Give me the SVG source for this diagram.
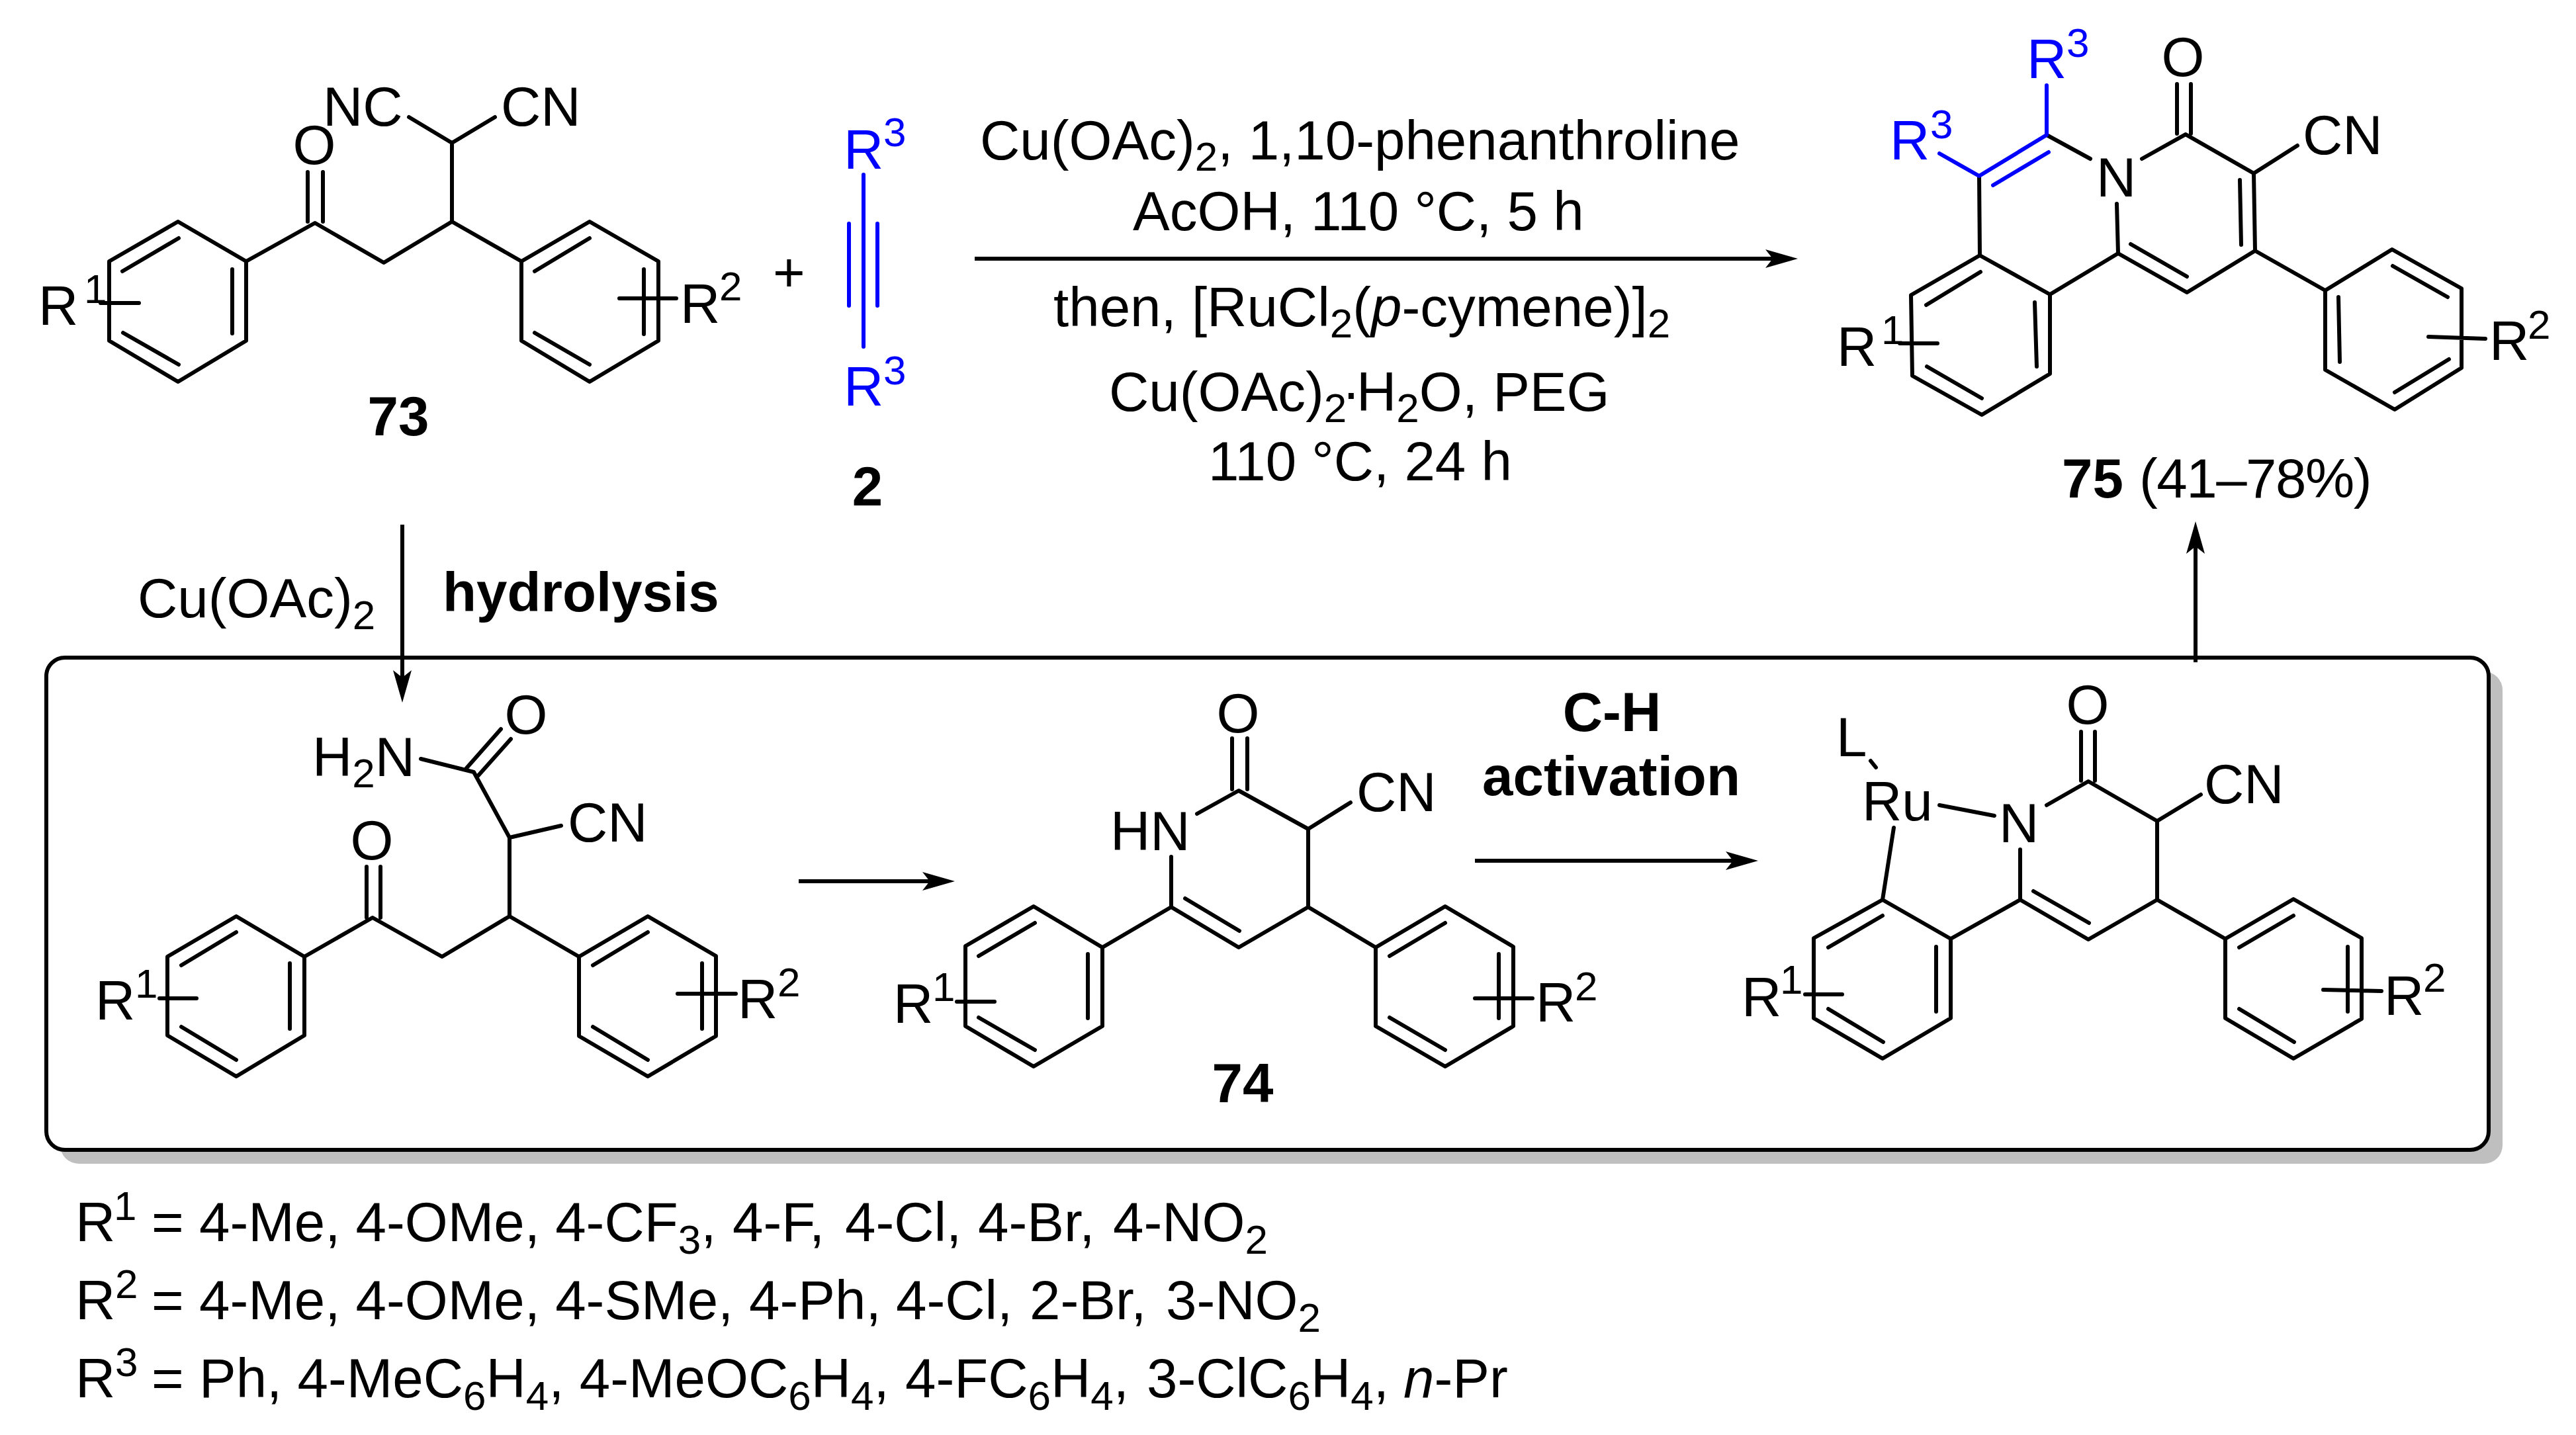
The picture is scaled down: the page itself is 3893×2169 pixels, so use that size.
<svg xmlns="http://www.w3.org/2000/svg" width="3893" height="2169" viewBox="0 0 3893 2169">
<style>
text{font-family:"Liberation Sans",Arial,sans-serif;font-size:83.5px;fill:#000;transform:translate(0,4px)}
.s{font-size:62px}
.b{font-weight:700}
.m{text-anchor:middle}
.blue{fill:#0000ff}
.bond{fill:none;stroke:#000;stroke-width:6;stroke-linecap:round;stroke-linejoin:round}
.blueb{fill:none;stroke:#0000ff;stroke-width:6;stroke-linecap:round;stroke-linejoin:round}
.arrow{fill:none;stroke:#000;stroke-width:6;marker-end:url(#head)}
</style>
<defs>
<marker id="head" markerUnits="userSpaceOnUse" viewBox="0 0 49 28" markerWidth="49" markerHeight="28" refX="15" refY="14" orient="auto"><path d="M0,0L49,14L0,28L11,14Z" fill="#000"/></marker>
</defs>
<rect width="3893" height="2169" fill="#fff"/>
<g id="box">
<rect x="91" y="1015" width="3691" height="744" rx="28" ry="28" fill="#bfbfbf"/>
<rect x="70" y="994" width="3691" height="744" rx="28" ry="28" fill="#fff" stroke="#000" stroke-width="6"/>
</g>
<g id="connectors">
<line class="arrow" x1="1473" y1="391" x2="2683" y2="391"/>
<line class="arrow" x1="608" y1="793" x2="608" y2="1028"/>
<line class="arrow" x1="1207" y1="1332" x2="1409" y2="1332"/>
<line class="arrow" x1="2229" y1="1301" x2="2623" y2="1301"/>
<line class="arrow" x1="3318" y1="1001" x2="3318" y2="822"/>
</g>
<g id="compound-73">
<path class="bond" d="M269,335L372,395V515L269,577L165,515V395ZM185,410L270,360M351,407V504M186,503L270,551M372,395L476,337L580,397L683,335L788,395M465,260V335M488,260V335M683,335V216L618,177M683,216L748,177M788,395L891,335L995,395V515L891,577L788,515ZM808,410L891,360M973,407V505M808,503L891,551M152,458H210M936,451H1022"/>
<text class="m" x="475" y="244">O</text>
<text x="488" y="186">NC</text>
<text x="757" y="186">CN</text>
<text x="58" y="487">R<tspan class="s" x="127" y="454">1</tspan></text>
<text x="1028" y="484">R<tspan class="s" x="1087" y="450">2</tspan></text>
<text class="b m" x="602" y="654">73</text>
</g>
<text id="plus" x="1168" y="436">+</text>
<g id="alkyne-2">
<path class="blueb" d="M1305,264V524M1283,338V462M1326,338V462"/>
<text class="blue" x="1275" y="251">R<tspan class="s" x="1335" y="217">3</tspan></text>
<text class="blue" x="1275" y="609">R<tspan class="s" x="1335" y="577">3</tspan></text>
<text class="b m" x="1311" y="760">2</text>
</g>
<g id="conditions">
<text x="1481" y="237">Cu(OAc)<tspan class="s" dy="17">2</tspan><tspan dy="-17">, 1,10-phenanthroline</tspan></text>
<text x="1712" y="344">AcOH, 110 °C, 5 h</text>
<text x="1592" y="489">then, [RuCl<tspan class="s" dy="17">2</tspan><tspan dy="-17">(</tspan><tspan font-style="italic">p</tspan>-cymene)]<tspan class="s" dy="17">2</tspan></text>
<text x="1676" y="617">Cu(OAc)<tspan class="s" dy="17">2</tspan><tspan x="2028" dy="-17">·</tspan><tspan x="2050">H</tspan><tspan class="s" dy="17">2</tspan><tspan dy="-17">O, PEG</tspan></text>
<text x="1826" y="722">110 °C, 24 h</text>
</g>
<g id="product-75">
<path class="bond" d="M2991,266L2992,386L3098,445V565L2995,627L2890,568L2888,446L2992,386M2911,461L2993,411M3075,457L3078,554M2912,554L2995,602M3098,445L3201,383L3305,442L3408,379L3406,262L3303,203L3237,240M3199,308L3201,383M3220,369L3305,418M3385,272L3387,370M3406,262L3472,220M3290,127V202M3311,127V202M3093,204L3159,240M3408,379L3514,439L3615,377L3720,436V556L3619,619L3514,559L3514,439M3616,402L3699,449M3534,449L3536,547M3619,593L3701,543M2871,519H2928M3670,509L3756,512"/>
<path class="blueb" d="M2931,232L2991,266L3093,204V129M3012,280L3096,230"/>
<text class="blue" x="2856" y="237">R<tspan class="s" x="2917" y="205">3</tspan></text>
<text class="blue" x="3063" y="114">R<tspan class="s" x="3123" y="82">3</tspan></text>
<text x="3168" y="293">N</text>
<text class="m" x="3299" y="111">O</text>
<text x="3480" y="229">CN</text>
<text x="2776" y="549">R<tspan class="s" x="2843" y="516">1</tspan></text>
<text x="3762" y="540">R<tspan class="s" x="3820" y="508">2</tspan></text>
<text x="3116" y="748"><tspan class="b">75</tspan> <tspan x="3233" letter-spacing="-1.5">(41–78%)</tspan></text>
</g>
<g id="reagent-cu">
<text x="208" y="929">Cu(OAc)<tspan class="s" dy="18">2</tspan></text>
<text class="b" x="669" y="920">hydrolysis</text>
</g>
<g id="amide-intermediate">
<path class="bond" d="M357,1385L460,1446V1565L357,1627L253,1565V1446ZM274,1459L357,1409M438,1456V1555M274,1552L357,1602M460,1446L563,1387L668,1446L770,1385L875,1446M554,1310V1387M575,1310V1387M770,1385V1266L716,1167L636,1147M705,1161L757,1102M723,1172L772,1117M770,1266L848,1248M875,1446L979,1385L1082,1445V1566L979,1627L875,1566ZM896,1459L979,1409M1061,1456V1555M896,1552L979,1602M241,1509H297M1024,1502H1112"/>
<text class="m" x="562" y="1295">O</text>
<text class="m" x="795" y="1105">O</text>
<text x="472" y="1169">H<tspan class="s" dy="17">2</tspan><tspan dy="-17">N</tspan></text>
<text x="858" y="1268">CN</text>
<text x="144" y="1537">R<tspan class="s" x="204" y="1504">1</tspan></text>
<text x="1115" y="1535">R<tspan class="s" x="1175" y="1502">2</tspan></text>
</g>
<g id="compound-74">
<path class="bond" d="M1562,1370L1666,1432V1551L1562,1612L1459,1551V1430ZM1479,1445L1564,1395M1644,1442V1539M1479,1538L1564,1587M1666,1432L1770,1371L1872,1432L1977,1371L2079,1432M1770,1295V1371M1791,1358L1873,1407M1977,1371V1253L1872,1195L1809,1230M1977,1253L2041,1213M1862,1116V1193M1885,1116V1193M2079,1432L2184,1370L2287,1431V1551L2184,1612L2079,1551ZM2100,1445L2184,1395M2265,1442V1539M2100,1538L2184,1587M1446,1514H1503M2229,1509H2316"/>
<text class="m" x="1871" y="1103">O</text>
<text x="1678" y="1281">HN</text>
<text x="2050" y="1222">CN</text>
<text x="1350" y="1542">R<tspan class="s" x="1409" y="1509">1</tspan></text>
<text x="2321" y="1540">R<tspan class="s" x="2380" y="1508">2</tspan></text>
<text class="b m" x="1878" y="1662">74</text>
<text class="b m" x="2436" y="1101">C-H</text>
<text class="b m" x="2435" y="1198">activation</text>
</g>
<g id="ru-complex">
<path class="bond" d="M2845,1360L2948,1419V1539L2845,1600L2741,1539V1418ZM2763,1432L2845,1384M2926,1431V1529M2763,1525L2846,1575M2948,1419L3053,1360L3156,1420L3260,1360L3363,1419M3053,1284V1360M3073,1347L3157,1395M3260,1360V1241L3156,1181L3093,1217M3260,1241L3326,1201M3145,1106V1180M3166,1106V1180M3363,1419L3466,1359L3569,1418V1540L3466,1600L3363,1539ZM3384,1432L3466,1384M3548,1431V1529M3384,1525L3467,1575M2827,1150L2835,1160M2931,1217L3014,1233M2862,1251L2845,1360M2728,1503H2784M3511,1496L3599,1498"/>
<text class="m" x="3155" y="1090">O</text>
<text x="3331" y="1210">CN</text>
<text x="3021" y="1269">N</text>
<text x="2814" y="1236">Ru</text>
<text x="2775" y="1139">L</text>
<text x="2632" y="1532">R<tspan class="s" x="2690" y="1498">1</tspan></text>
<text x="3603" y="1530">R<tspan class="s" x="3662" y="1495">2</tspan></text>
</g>
<g id="legend">
<text x="114" y="1872">R<tspan class="s" x="172" y="1840">1</tspan><tspan x="229" y="1872">= 4-Me, 4-OMe, 4-CF</tspan><tspan class="s" dy="19">3</tspan><tspan dy="-19">, </tspan><tspan x="1107">4-F, </tspan><tspan x="1277">4-Cl, </tspan><tspan x="1478">4-Br, </tspan><tspan x="1682">4-NO</tspan><tspan class="s" dy="19">2</tspan></text>
<text x="114" y="1990">R<tspan class="s" x="174" y="1958">2</tspan><tspan x="229" y="1990">= 4-Me, 4-OMe, 4-SMe, </tspan><tspan x="1132">4-Ph, </tspan><tspan x="1354">4-Cl, </tspan><tspan x="1556">2-Br, </tspan><tspan x="1762">3-NO</tspan><tspan class="s" dy="19">2</tspan></text>
<text x="114" y="2108">R<tspan class="s" x="174" y="2076">3</tspan><tspan x="229" y="2108">= Ph, 4-MeC</tspan><tspan class="s" dy="19">6</tspan><tspan dy="-19">H</tspan><tspan class="s" dy="19">4</tspan><tspan dy="-19">, 4-MeOC</tspan><tspan class="s" dy="19">6</tspan><tspan dy="-19">H</tspan><tspan class="s" dy="19">4</tspan><tspan dy="-19">, </tspan><tspan x="1368">4-FC</tspan><tspan class="s" dy="19">6</tspan><tspan dy="-19">H</tspan><tspan class="s" dy="19">4</tspan><tspan dy="-19">, </tspan><tspan x="1733">3-ClC</tspan><tspan class="s" dy="19">6</tspan><tspan dy="-19">H</tspan><tspan class="s" dy="19">4</tspan><tspan dy="-19">, </tspan><tspan x="2121" font-style="italic">n</tspan>-Pr</text>
</g>
</svg>
